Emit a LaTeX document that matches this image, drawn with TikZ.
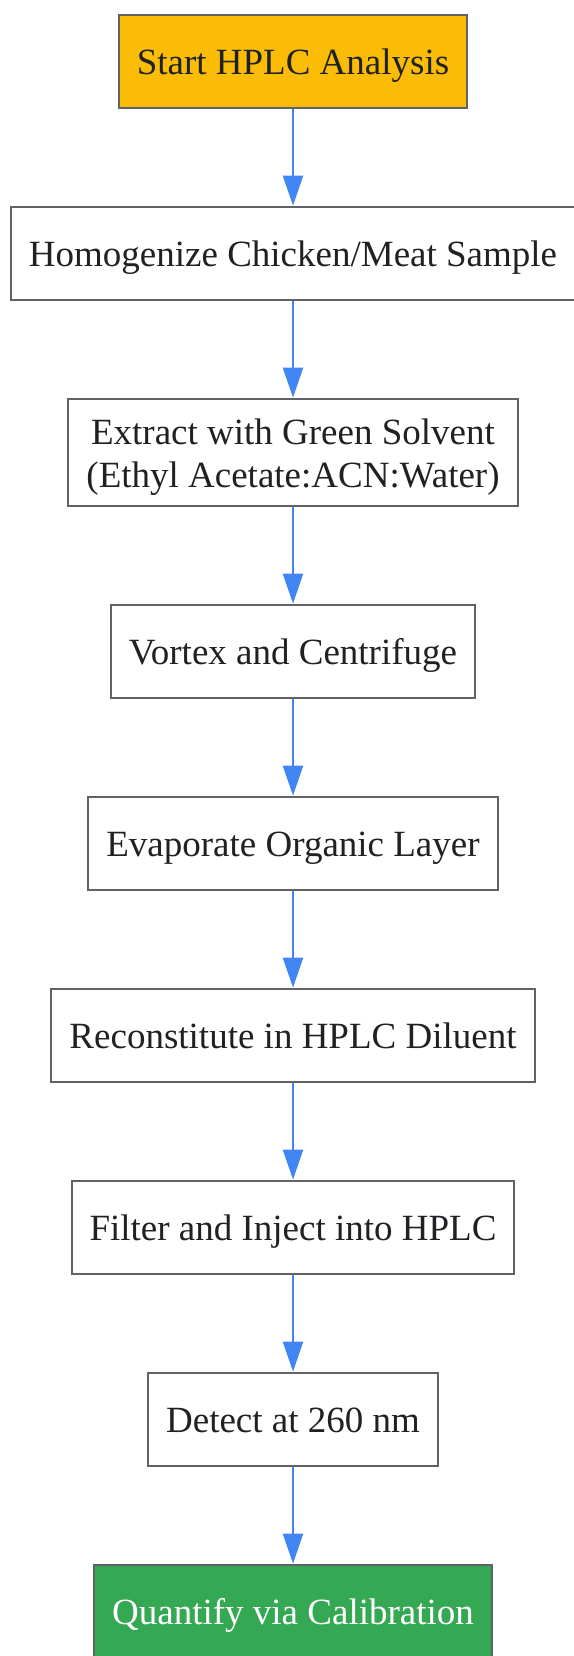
\documentclass[tikz,border=0pt]{standalone}
\usepackage{fontspec}
\setmainfont{Liberation Serif}
\usepackage{tikz}
\usetikzlibrary{positioning,arrows.meta}
\definecolor{boxline}{HTML}{5F6368}
\definecolor{flowblue}{HTML}{4285F4}
\definecolor{startfill}{HTML}{FBBC05}
\definecolor{endfill}{HTML}{34A853}
\definecolor{txt}{HTML}{202124}

\begin{document}
\begin{tikzpicture}[x=1pt, y=1pt,
  stepbox/.style={draw=boxline, line width=2pt, fill=white, text=txt, inner xsep=18pt, inner ysep=0pt, minimum height=93pt, text height=35pt, text depth=8pt, align=center, font=\fontsize{37}{43}\selectfont},
  flow/.style={draw=flowblue, line width=2pt, -{Triangle[width=20pt,length=30pt]}},
  node distance=97pt]
\useasboundingbox (0,0) rectangle (573,-1656);
\node[stepbox, fill=startfill, anchor=north] (start) at (293,-13.7) {Start HPLC Analysis};
\node[stepbox, below=of start] (homog) {Homogenize Chicken/Meat Sample};
\node[stepbox, below=of homog, minimum height=107pt, text height=, text depth=] (extract) {\rule{0pt}{36pt}Extract with Green Solvent\\(Ethyl Acetate:ACN:Water)};
\node[stepbox, below=of extract] (vortex) {Vortex and Centrifuge};
\node[stepbox, below=of vortex] (evap) {Evaporate Organic Layer};
\node[stepbox, below=of evap] (recon) {Reconstitute in HPLC Diluent};
\node[stepbox, below=of recon] (filter) {Filter and Inject into HPLC};
\node[stepbox, below=of filter] (detect) {Detect at 260 nm};
\node[stepbox, below=of detect, fill=endfill, text=white] (quant) {Quantify via Calibration};
\draw[flow] (start) -- (homog);
\draw[flow] (homog) -- (extract);
\draw[flow] (extract) -- (vortex);
\draw[flow] (vortex) -- (evap);
\draw[flow] (evap) -- (recon);
\draw[flow] (recon) -- (filter);
\draw[flow] (filter) -- (detect);
\draw[flow] (detect) -- (quant);
\end{tikzpicture}
\end{document}
